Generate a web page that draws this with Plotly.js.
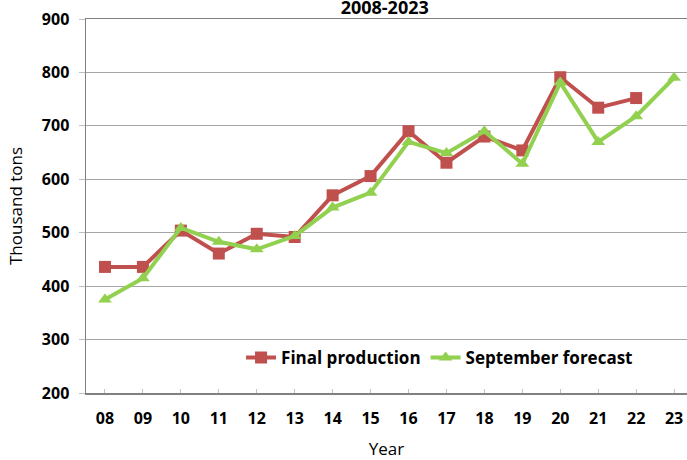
<!DOCTYPE html>
<html>
<head>
<meta charset="utf-8">
<script src="https://cdn.plot.ly/plotly-3.0.1.min.js"></script>
<style>html,body{margin:0;padding:0;background:#fff;}#chart{width:687px;height:460px;}</style>
</head>
<body>
<div id="chart"></div>
<script>
const years = ["08","09","10","11","12","13","14","15","16","17","18","19","20","21","22","23"];
const finalProduction = [436, 436, 504, 461, 498, 492, 570, 606, 690, 631, 680, 654, 791, 734, 752, null];
const septemberForecast = [375, 415, 509, 483, 469, 494, 547, 575, 670, 649, 690, 629, 781, 670, 718, 790];

const font = "'Open Sans', sans-serif";

const traces = [
  {
    x: years, y: finalProduction, name: "Final production", type: "scatter", mode: "lines+markers",
    line: {color: "#C0504D", width: 4},
    marker: {symbol: "square", size: 12, color: "#C0504D"},
    connectgaps: false
  },
  {
    x: years, y: septemberForecast, name: "September forecast", type: "scatter", mode: "lines+markers",
    line: {color: "#92D050", width: 4},
    marker: {symbol: "triangle-up", size: 12, color: "#92D050"}
  }
];

const layout = {
  width: 687, height: 460,
  margin: {l: 86, r: 0, t: 19, b: 67},
  paper_bgcolor: "#fff", plot_bgcolor: "#fff",
  font: {family: font, color: "#000"},
  title: {text: "<b>2008-2023</b>", font: {size: 18, family: font, color: "#000"},
          x: 0.56, xanchor: "center", y: 0.984, yref: "container", yanchor: "middle"},
  showlegend: true,
  legend: {orientation: "h", x: 0.258, y: 0.094, xanchor: "left", yanchor: "middle",
           bgcolor: "rgba(0,0,0,0)", font: {size: 17, family: font, color: "#000", weight: "bold"},
           itemwidth: 30, tracegroupgap: 0},
  xaxis: {
    type: "category", range: [-0.5, 15.34],
    showline: true, linecolor: "#808080", linewidth: 1.5, mirror: true,
    ticks: "inside", ticklen: 4, tickcolor: "#c0c0c0",
    ticklabelstandoff: 10,
    showgrid: false, zeroline: false,
    tickfont: {size: 16, family: font, color: "#000", weight: "bold"},
    title: {text: "Year", font: {size: 17, family: font, color: "#000"}, standoff: 24}
  },
  yaxis: {
    range: [200, 900], dtick: 100,
    showline: true, linecolor: "#808080", linewidth: 1.5,
    ticks: "outside", ticklen: 6, tickcolor: "#c0c0c0",
    ticklabelstandoff: 6,
    showgrid: true, gridcolor: "#a6a6a6", gridwidth: 1.2, zeroline: false,
    tickfont: {size: 16, family: font, color: "#000", weight: "bold"},
    title: {text: "Thousand tons", font: {size: 17, family: font, color: "#000"}, standoff: 15}
  }
};

Plotly.newPlot("chart", traces, layout, {displayModeBar: false, staticPlot: true});
</script>
</body>
</html>
